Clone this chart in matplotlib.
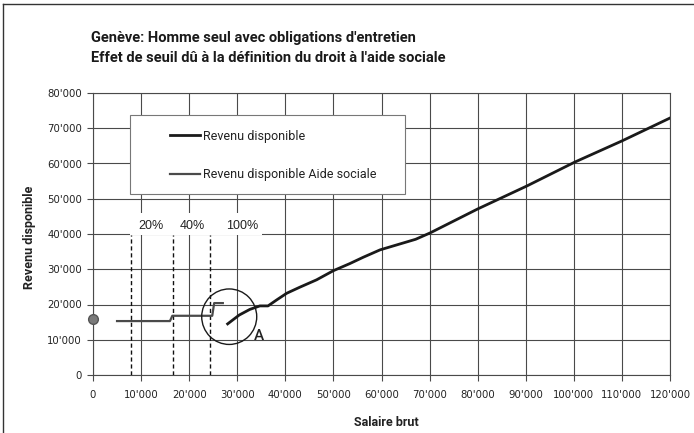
import matplotlib
matplotlib.use('Agg')
import matplotlib.pyplot as plt
from matplotlib.patches import Ellipse, Rectangle
from matplotlib.lines import Line2D
from matplotlib.ticker import FuncFormatter, MultipleLocator

# ---- data ----
salaire = [28000, 30400, 32600, 34700, 36400, 38200, 40300, 43000, 46500,
           50000, 53400, 56200, 59700, 67100, 70100, 80000, 90200, 100200,
           110000, 120000]
revenu = [14500, 17000, 18600, 19600, 19600, 21300, 23200, 24900, 27000,
          29600, 31600, 33400, 35500, 38500, 40300, 47100, 53600, 60400,
          66400, 72900]

salaire_aide = [5000, 16000, 16500, 24800, 25200, 27000]
revenu_aide = [15300, 15300, 16800, 16800, 20400, 20400]

point_x = [0]
point_y = [15900]

seuils_x = [7900, 16600, 24300]
seuils_labels = ['20%', '40%', '100%']
seuils_label_x = [12000, 20600, 31000]

series_labels = ['Revenu disponible', 'Revenu disponible Aide sociale']
title_lines = ["Genève: Homme seul avec obligations d'entretien",
               "Effet de seuil dû à la définition du droit à l'aide sociale"]

NARROW = ['Roboto', 'DejaVu Sans']

fig = plt.figure(figsize=(6.94, 4.33), dpi=100)
ax = fig.add_axes([93/694, 58/433, 577/694, 282/433])

ax.set_xlim(0, 120000)
ax.set_ylim(0, 80000)
ax.xaxis.set_major_locator(MultipleLocator(10000))
ax.yaxis.set_major_locator(MultipleLocator(10000))
fmt = FuncFormatter(lambda v, p: "0" if v == 0 else f"{int(v):,}".replace(',', "'"))
ax.xaxis.set_major_formatter(fmt)
ax.yaxis.set_major_formatter(fmt)
ax.grid(True, color='#4a4a4a', linewidth=0.8, zorder=0)
ax.set_axisbelow(True)
for s in ax.spines.values():
    s.set_color('#4a4a4a')
    s.set_linewidth(0.8)
ax.tick_params(axis='both', direction='out', length=4, width=0.8, color='#4a4a4a',
               labelsize=7.3, labelcolor='#222222')
ax.tick_params(axis='x', pad=7)
ax.tick_params(axis='y', pad=4)

# white box behind percentage labels
ax.add_patch(Rectangle((7700, 39700), 27450, 6300, facecolor='white',
                       edgecolor='none', zorder=2))

# threshold dashed lines
for sx in seuils_x:
    ax.plot([sx, sx], [0, 39700], color='#111111', linewidth=1.0,
            dashes=(3, 2), zorder=3)
for lx, lab in zip(seuils_label_x, seuils_labels):
    ax.text(lx, 42400, lab, ha='center', va='center', fontsize=9,
            family=['Liberation Sans', 'DejaVu Sans'], color='#222222', zorder=4)

l1, = ax.plot(salaire, revenu, color='#1a1a1a', linewidth=2.0, zorder=5,
              label=series_labels[0])
l2, = ax.plot(salaire_aide, revenu_aide, color='#4a4a4a', linewidth=1.6, zorder=5,
              label=series_labels[1])
ax.plot(point_x, point_y, 'o', markersize=7, markerfacecolor='#7a7a7a',
        markeredgecolor='#555555', clip_on=False, zorder=6)

ax.add_patch(Ellipse((28330, 16540), 11440, 15740, facecolor='none',
                     edgecolor='#1a1a1a', linewidth=1.0, zorder=6))
ax.text(34500, 11000, 'A', ha='center', va='center', fontsize=11,
        family=NARROW, fontweight='medium', color='#222222', zorder=6)

# legend frame and legend content
ax.add_patch(Rectangle((0.064, 0.642), 0.477, 0.28, transform=ax.transAxes,
                       facecolor='white', edgecolor='#777777', linewidth=0.8,
                       zorder=7))
leg = ax.legend(handles=[l1, l2], loc='center left',
                bbox_to_anchor=(0.1334, 0.778),
                prop={'family': NARROW, 'size': 9}, frameon=False,
                handlelength=2.4, handletextpad=0.25, labelspacing=2.05,
                borderpad=0, borderaxespad=0)
leg.set_zorder(8)
for t in leg.get_texts():
    t.set_color('#222222')

ax.set_ylabel('Revenu disponible', fontsize=9, fontweight='bold', family=NARROW,
              color='#222222')
ax.yaxis.set_label_coords(-0.098, 0.49)
ax.set_xlabel('Salaire brut', fontsize=9, fontweight='bold', family=NARROW,
              color='#222222')
ax.xaxis.set_label_coords(0.508, -0.145)

fig.text(91/694, 1 - 38/433, title_lines[0], fontsize=10.5, fontweight='bold',
         family=NARROW, color='#1a1a1a', va='center', ha='left')
fig.text(91/694, 1 - 58/433, title_lines[1], fontsize=10.5, fontweight='bold',
         family=NARROW, color='#1a1a1a', va='center', ha='left')

# scan frame (left and top borders)
fig.add_artist(Line2D([3/694, 3/694], [0, 1 - 4/433], transform=fig.transFigure,
                      color='#333333', linewidth=1.0))
fig.add_artist(Line2D([3/694, 1], [1 - 4/433, 1 - 4/433], transform=fig.transFigure,
                      color='#333333', linewidth=1.0))

fig.savefig('out.png', dpi=100)
